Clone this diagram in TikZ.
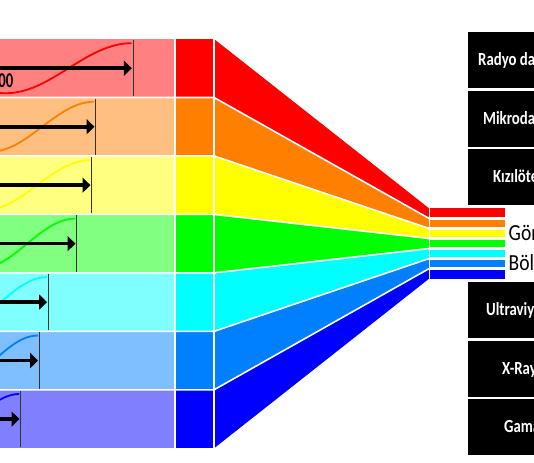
\documentclass[tikz,border=0pt]{standalone}
\usepackage{fontspec}
\setmainfont{Carlito}
\usetikzlibrary{arrows.meta}
\definecolor{c1}{HTML}{FF0000}
\definecolor{c2}{HTML}{FF8000}
\definecolor{c3}{HTML}{FFFF00}
\definecolor{c4}{HTML}{00FF00}
\definecolor{c5}{HTML}{00FFFF}
\definecolor{c6}{HTML}{0080FF}
\definecolor{c7}{HTML}{0000FF}
\definecolor{l1}{HTML}{FF8080}
\definecolor{l2}{HTML}{FFBF80}
\definecolor{l3}{HTML}{FFFF80}
\definecolor{l4}{HTML}{80FF80}
\definecolor{l5}{HTML}{80FFFF}
\definecolor{l6}{HTML}{80BFFF}
\definecolor{l7}{HTML}{8080FF}
\tikzset{
  sepline/.style={draw=white, line width=1.6pt},
  sepnarrow/.style={draw=white, line width=2.4pt},
  wave/.style={line width=1.8pt},
  vline/.style={draw=black!80, line width=0.9pt},
  arr/.style={draw=black, line width=3.6pt, -{Triangle[length=8pt,width=15pt]}},
  boxtxt/.style={text=white, font=\bfseries\fontsize{18.5}{18.5}\selectfont, inner sep=0pt, anchor=base west, xscale=0.8},
  vistxt/.style={text=black, font=\fontsize{23}{23}\selectfont, inner sep=0pt, anchor=base west, xscale=0.85}
}
\begin{document}
\begin{tikzpicture}[x=1pt,y=-1pt]
\useasboundingbox (0,0) rectangle (534,462);
\clip (0,0) rectangle (534,462);
\fill[white] (0,0) rectangle (534,462);

% colour bands
\foreach \i/\lc/\sc in {0/l1/c1,1/l2/c2,2/l3/c3,3/l4/c4,4/l5/c5,5/l6/c6,6/l7/c7} {
  \pgfmathsetmacro\ya{39+58.47*\i}
  \pgfmathsetmacro\yb{39+58.47*(\i+1)}
  \pgfmathsetmacro\ra{208.3+10.06*\i}
  \pgfmathsetmacro\rb{208.3+10.06*(\i+1)}
  \fill[\lc] (-5,\ya) rectangle (175,\yb);
  \fill[\sc] (175,\ya) rectangle (214,\yb);
  \fill[\sc] (214,\ya) -- (429,\ra) -- (429,\rb) -- (214,\yb) -- cycle;
  \fill[\sc] (429,\ra) rectangle (505,\rb);
}
% white separators
\foreach \k in {1,...,6} {
  \pgfmathsetmacro\ya{39+58.47*\k}
  \pgfmathsetmacro\ra{208.3+10.06*\k}
  \draw[sepline] (-5,\ya) -- (214,\ya) -- (429,\ra);
  \draw[sepnarrow] (429,\ra) -- (506,\ra);
}
\draw[sepline] (175,38) -- (175,450);
\draw[sepline] (214,38) -- (214,450);
\draw[sepline] (429.5,207) -- (429.5,280);

% waves, arrows and markers
\foreach \i/\sc/\xv/\q in {0/c1/133/63, 1/c2/95.7/52, 2/c3/91.7/53, 3/c4/76.7/48, 4/c5/48.3/46, 5/c6/39.3/44, 6/c7/20.7/44} {
  \pgfmathsetmacro\yc{39+58.47*(\i+0.5)}
  \pgfmathsetmacro\xp{\xv-1.5}
  \pgfmathsetmacro\xo{\xp-2*\q}
  \draw[wave,\sc] plot[domain=-12:\xp, samples=80, smooth] (\x, {\yc+25*cos(90*(\x-(\xo))/\q)});
  \draw[arr] (-12,\yc) -- (\xv-1.2,\yc);
  \draw[vline] (\xv,\yc-28.2) -- (\xv,\yc+28.2);
}
\node[font=\bfseries\fontsize{21}{21}\selectfont, inner sep=0pt, anchor=base east, xscale=0.7] (wl) at (13.5,87.3) {700};

% black boxes
\foreach \ya/\yb/\txt/\tx/\n in {32/88/Radyo dalgaları/478/b1, 91/147/Mikrodalgalar/483/b2, 149/205/Kızılötesi/493/b3, 282/338/Ultraviyole/486/b4, 341/397/X-Ray/502/b5, 399/455/Gama/504/b6} {
  \fill[black] (468,\ya) rectangle (640,\yb);
  \pgfmathsetmacro\ym{(\ya+\yb)/2+5.8}
  \node[boxtxt] (\n) at (\tx,\ym) {\txt};
}
\node[vistxt] (v1) at (508.5,240) {Görünür};
\node[vistxt] (v2) at (508.5,270) {Bölge};
\end{tikzpicture}
\end{document}
